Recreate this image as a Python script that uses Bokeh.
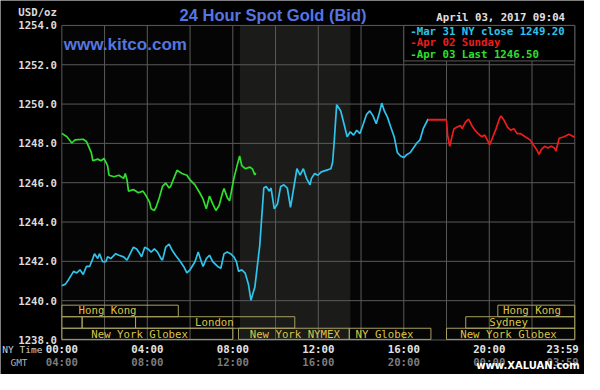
from bokeh.plotting import figure
from bokeh.models import Range1d, Label, ColumnDataSource
from bokeh.core.properties import value
from bokeh.embed import file_html
from bokeh.resources import INLINE

# ---------------- data ----------------
# Mar 31 NY session (hours NY time, price)
mar31_h = [0.00, 0.17, 0.32, 0.55, 0.70, 0.85, 1.00, 1.15, 1.30, 1.45, 1.53, 1.68, 1.76, 1.91,
           2.06, 2.14, 2.29, 2.52, 2.67, 2.89, 3.05, 3.20, 3.35, 3.50, 3.65, 3.73, 3.88, 4.03,
           4.18, 4.33, 4.48, 4.64, 4.71, 4.86, 5.02, 5.17, 5.32, 5.55, 5.70, 5.85, 6.00, 6.23,
           6.38, 6.53, 6.61, 6.76, 6.91, 7.06, 7.29, 7.44, 7.59, 7.74, 7.89, 8.05, 8.17, 8.27,
           8.42, 8.58, 8.73, 8.85, 8.95, 9.03, 9.26, 9.45, 9.56, 9.71, 9.79, 9.94, 10.09, 10.24,
           10.39, 10.55, 10.70, 10.85, 11.00, 11.15, 11.30, 11.45, 11.61, 11.68, 11.83, 11.98,
           12.14, 12.36, 12.59, 12.67, 12.74, 12.86, 13.05, 13.20, 13.35, 13.50, 13.65, 13.80,
           13.95, 14.11, 14.26, 14.41, 14.56, 14.71, 14.86, 14.97, 15.09, 15.24, 15.39, 15.55,
           15.70, 15.85, 16.00, 16.15, 16.30, 16.45, 16.61, 16.76, 16.91, 17.14]
mar31_p = [1240.76, 1240.84, 1241.08, 1241.49, 1241.41, 1241.57, 1241.33, 1241.74, 1241.74,
           1242.14, 1242.39, 1242.14, 1242.39, 1241.98, 1241.98, 1242.23, 1242.14, 1242.39,
           1242.31, 1242.23, 1242.06, 1242.39, 1242.72, 1242.63, 1242.39, 1242.23, 1242.72,
           1242.63, 1242.47, 1242.63, 1242.47, 1242.14, 1242.06, 1242.72, 1242.88, 1242.55,
           1242.31, 1241.98, 1241.74, 1241.41, 1241.57, 1241.98, 1242.47, 1241.98, 1241.74,
           1242.14, 1242.31, 1241.98, 1241.74, 1241.65, 1242.39, 1242.47, 1242.39, 1242.23,
           1241.98, 1241.49, 1241.57, 1241.40, 1240.84, 1240.02, 1240.40, 1240.68, 1242.80,
           1245.73, 1245.81, 1245.57, 1245.73, 1244.67, 1244.92, 1245.81, 1245.89, 1245.73,
           1244.75, 1245.73, 1246.71, 1246.38, 1246.71, 1246.22, 1245.89, 1246.22, 1246.47,
           1246.38, 1246.55, 1246.63, 1246.71, 1247.04, 1248.02, 1249.97, 1249.65, 1249.00,
           1248.34, 1248.59, 1248.42, 1248.67, 1248.50, 1249.00, 1249.48, 1249.65, 1249.40,
           1249.00, 1249.56, 1250.05, 1249.65, 1249.32, 1248.83, 1248.34, 1247.53, 1247.36,
           1247.28, 1247.44, 1247.53, 1247.77, 1248.02, 1248.18, 1248.75, 1249.24]
close_h = [17.14, 18.0]
close_p = [1249.2, 1249.2]

# Apr 02 Sunday evening
apr02_h = [18.00, 18.05, 18.15, 18.27, 18.35, 18.50, 18.65, 18.73, 18.88, 19.03, 19.18, 19.33,
           19.48, 19.64, 19.79, 19.94, 20.02, 20.17, 20.32, 20.47, 20.55, 20.70, 20.85, 21.00,
           21.15, 21.30, 21.45, 21.68, 21.91, 22.06, 22.21, 22.33, 22.44, 22.59, 22.74, 22.89,
           23.05, 23.12, 23.27, 23.50, 23.73, 23.95, 24.00]
apr02_p = [1249.16, 1248.42, 1247.85, 1248.42, 1248.75, 1248.83, 1248.91, 1248.75, 1249.07,
           1249.24, 1248.91, 1248.67, 1248.50, 1248.34, 1248.42, 1248.10, 1247.93, 1248.34,
           1248.75, 1249.24, 1249.40, 1249.16, 1248.83, 1248.67, 1248.75, 1248.50, 1248.50,
           1248.34, 1248.18, 1247.93, 1247.69, 1247.44, 1247.69, 1247.85, 1247.77, 1247.85,
           1247.77, 1247.61, 1248.26, 1248.34, 1248.46, 1248.34, 1248.30]

# Apr 03 (today, up to 09:04)
apr03_h = [0.00, 0.24, 0.47, 0.62, 1.00, 1.15, 1.38, 1.45, 1.68, 1.83, 1.98, 2.14, 2.21, 2.44,
           2.67, 2.89, 2.97, 3.05, 3.12, 3.35, 3.58, 3.80, 3.95, 4.11, 4.18, 4.33, 4.41, 4.56,
           4.71, 4.86, 5.02, 5.09, 5.24, 5.39, 5.62, 5.85, 6.00, 6.23, 6.45, 6.61, 6.76, 6.91,
           7.06, 7.21, 7.36, 7.52, 7.59, 7.74, 7.85, 8.05, 8.20, 8.32, 8.42, 8.58, 8.80, 8.92,
           9.03, 9.07]
apr03_p = [1248.51, 1248.34, 1248.02, 1248.18, 1248.21, 1248.10, 1247.53, 1247.12, 1247.20,
           1247.12, 1247.23, 1246.87, 1246.38, 1246.30, 1246.38, 1246.22, 1246.47, 1246.14,
           1245.57, 1245.65, 1245.49, 1245.57, 1245.32, 1245.00, 1244.67, 1244.59, 1244.75,
           1245.24, 1245.81, 1245.98, 1245.73, 1245.81, 1246.22, 1246.63, 1246.47, 1246.38,
           1246.14, 1245.89, 1245.49, 1245.16, 1244.67, 1245.32, 1244.92, 1244.59, 1244.84,
           1245.49, 1245.70, 1245.24, 1245.08, 1246.22, 1246.87, 1247.36, 1246.87, 1246.71,
           1246.79, 1246.70, 1246.40, 1246.50]

# COMEX pit session (shaded)
comex_start, comex_end = 8 + 20 / 60, 13.5

# Market sessions
sess_name = ["Hong Kong", "", "", "London", "New York Globex", "New York NYMEX", "NY Globex",
             "Hong Kong", "Sydney", "New York Globex"]
sess_start = [0.0, 0.0, 0.95, 3.45, 0.0, 8.27, 13.45, 20.4, 18.9, 18.0]
sess_end = [5.45, 0.95, 3.45, 10.9, 8.0, 13.45, 17.27, 24.0, 24.0, 24.0]
sess_row = [0, 1, 1, 1, 2, 2, 2, 0, 1, 2]
sess_text_x = [2.14, 0.5, 2.2, 7.14, 3.64, 10.9, 15.1, 22.0, 20.9, 20.9]

y_ticks = [1238, 1240, 1242, 1244, 1246, 1248, 1250, 1252, 1254]
x_grid = [0, 2, 4, 6, 8, 10, 12, 14, 16, 18, 20, 22, 24]
x_tick_h = [0, 4, 8, 12, 16, 20]
ny_labels = ["00:00", "04:00", "08:00", "12:00", "16:00", "20:00"]
gmt_labels = ["04:00", "08:00", "12:00", "16:00", "20:00", "00:00"]
end_ny, end_gmt = "23:59", "03:59"

legend_texts = ["-Mar 31 NY close 1249.20", "-Apr 02 Sunday", "-Apr 03 Last 1246.50"]

# ---------------- geometry (reference pixels -> figure) ----------------
W, H = 584, 374
SX, SY = W / 600, H / 390
PL, PR, PT, PB = 63 * SX, 590 * SX, 26 * SY, 354 * SY   # plot area in figure px
YLO, YHI = 1238, 1254
PPX = (PR - PL) / 24
PPY = (PB - PT) / (YHI - YLO)


def X(ref_px):
    return (ref_px * SX - PL) / PPX


def Y(ref_py):
    return YHI - (ref_py * SY - PT) / PPY


MONO = "DejaVu Sans Mono"
FS = "10.7px"
CYAN, RED, GREEN = "#2ec4ec", "#ee1c1c", "#2ee02e"
GRID = "#5a5a5a"
BLUE = "#5476e0"
GOLD_TXT, GOLD_BOX = "#dcc444", "#a8a060"

p = figure(width=W, height=H, output_backend="svg", toolbar_location=None,
           x_range=Range1d(X(0), X(600)), y_range=Range1d(Y(390), Y(0)),
           x_axis_location=None, y_axis_location=None,
           min_border=0, background_fill_color="#000000", border_fill_color="#000000",
           outline_line_color=None)
p.grid.visible = False

# plot area background
p.quad(left=[0], right=[24], bottom=[YLO], top=[YHI], fill_color="#050505", line_color=None)
# COMEX shading
p.quad(left=[comex_start], right=[comex_end], bottom=[YLO], top=[YHI],
       fill_color="#1b1b19", line_color=None)
# grid
p.segment(x0=x_grid, x1=x_grid, y0=[YLO] * len(x_grid), y1=[YHI] * len(x_grid),
          line_color=GRID, line_width=1)
p.segment(x0=[0] * len(y_ticks), x1=[24] * len(y_ticks), y0=y_ticks, y1=y_ticks,
          line_color=GRID, line_width=1)

# sessions
ROW_TOP, ROW_H = 1239.77, 0.587
src = ColumnDataSource(dict(
    left=sess_start, right=sess_end,
    top=[ROW_TOP - r * ROW_H for r in sess_row],
    bottom=[max(ROW_TOP - (r + 1) * ROW_H, YLO + 0.03) for r in sess_row],
    mid=[ROW_TOP - (r + 0.5) * ROW_H for r in sess_row],
    tx=sess_text_x, name=sess_name))
p.quad(left="left", right="right", top="top", bottom="bottom", source=src,
       fill_alpha=0, line_color=GOLD_BOX, line_width=1)
p.text(x="tx", y="mid", text="name", source=src, text_font=value(MONO),
       text_font_size=FS, text_color=GOLD_TXT, text_align="center",
       text_baseline="middle")

# price lines
p.line(mar31_h, mar31_p, line_color=CYAN, line_width=1.7)
p.line(close_h, close_p, line_color=RED, line_width=2)
p.line(apr02_h, apr02_p, line_color=RED, line_width=1.7)
p.line(apr03_h, apr03_p, line_color=GREEN, line_width=1.7)

# legend box
p.quad(left=[16], right=[24], top=[YHI], bottom=[Y(63)], fill_color="#000000",
       line_color=GRID)
p.text(x=[X(421)] * 3, y=[Y(32), Y(43.5), Y(56)], text=legend_texts,
       text_color=[CYAN, RED, GREEN], text_font=value(MONO), text_font_size=FS,
       text_font_style="bold", text_baseline="middle")

# y tick labels
p.text(x=[0] * len(y_ticks), y=y_ticks, text=[f"{t:.1f}" for t in y_ticks], x_offset=-5,
       text_font=value(MONO), text_font_size=FS, text_font_style="bold",
       text_color="#dcdcdc", text_align="right", text_baseline="middle")

# x tick labels (NY time and GMT)
p.text(x=x_tick_h, y=[Y(364)] * len(x_tick_h), text=ny_labels, text_font=value(MONO),
       text_font_size=FS, text_font_style="bold", text_color="#e4e4e4",
       text_align="center", text_baseline="middle")
p.text(x=x_tick_h, y=[Y(378)] * len(x_tick_h), text=gmt_labels, text_font=value(MONO),
       text_font_size=FS, text_font_style="bold", text_color="#7c7c7c",
       text_align="center", text_baseline="middle")
p.text(x=[24], y=[Y(364)], text=[end_ny], x_offset=4, text_font=value(MONO),
       text_font_size=FS, text_font_style="bold", text_color="#e4e4e4",
       text_align="right", text_baseline="middle")
p.text(x=[24], y=[Y(378)], text=[end_gmt], x_offset=4, text_font=value(MONO),
       text_font_size=FS, text_font_style="bold", text_color="#7c7c7c",
       text_align="right", text_baseline="middle")


def lab(x, y, text, color, font=MONO, size=FS, align="left", style="normal"):
    p.add_layout(Label(x=x, y=y, text=text, text_color=color, text_font=font,
                       text_font_size=size, text_align=align, text_baseline="middle",
                       text_font_style=style))


lab(X(43), Y(364), "NY Time", "#d0d0d0", size="9.5px", align="right")
lab(X(19), Y(378), "GMT", "#b4b4b4", size="9.5px", align="center")
lab(X(58), Y(13), "USD/oz", "#dcdcdc", align="right", style="bold")
lab(X(280), Y(15), "24 Hour Spot Gold (Bid)", BLUE, font="Liberation Sans",
    size="16.5px", align="center", style="bold")
lab(X(65), Y(46), "www.kitco.com", BLUE, font="Liberation Sans", size="17px",
    style="bold")
lab(X(580), Y(18), "April 03, 2017 09:04", "#e0e0e0", align="right", style="bold")
lab(X(595), Y(381), "www.XALUAN.com", "#ffffff", font="DejaVu Sans", size="10px",
    align="right", style="bold")

open("out.html", "w").write(file_html(p, INLINE))
